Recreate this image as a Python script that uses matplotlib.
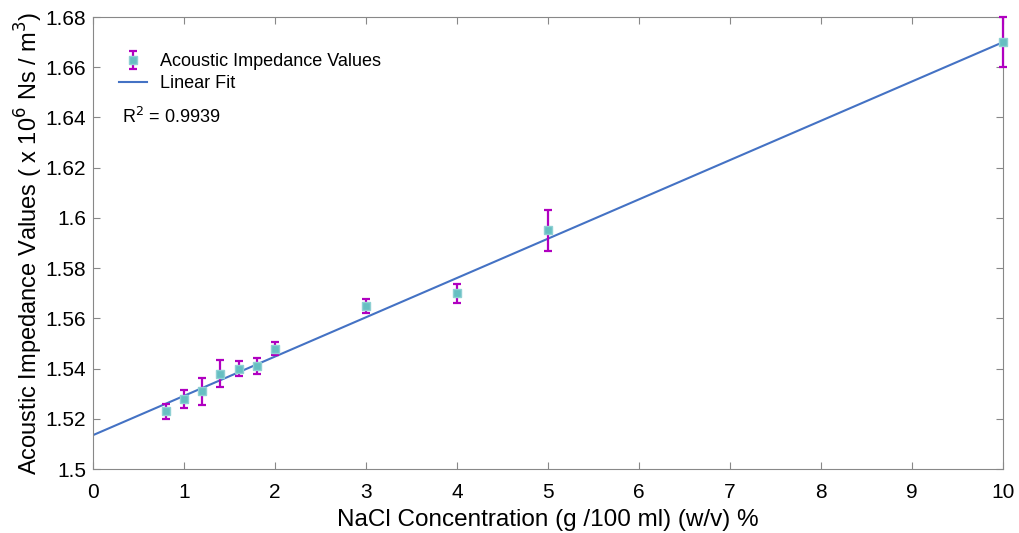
import numpy as np
import matplotlib
matplotlib.use("Agg")
import matplotlib.pyplot as plt

plt.rcParams['font.family'] = ['Liberation Sans', 'DejaVu Sans']

conc = [0.8, 1.0, 1.2, 1.4, 1.6, 1.8, 2.0, 3.0, 4.0, 5.0, 10.0]
impedance = [1.523, 1.528, 1.531, 1.538, 1.540, 1.541, 1.548, 1.565, 1.570, 1.595, 1.670]
errors = [0.003, 0.0035, 0.0053, 0.0055, 0.003, 0.0033, 0.0025, 0.0028, 0.0037, 0.008, 0.010]
xticks = [0, 1, 2, 3, 4, 5, 6, 7, 8, 9, 10]
yticks = [1.5, 1.52, 1.54, 1.56, 1.58, 1.6, 1.62, 1.64, 1.66, 1.68]
ytick_labels = ['1.5', '1.52', '1.54', '1.56', '1.58', '1.6', '1.62', '1.64', '1.66', '1.68']
fit_intercept = 1.5135
fit_slope = 0.01565

fig = plt.figure(figsize=(10.19, 5.33), dpi=100)
ax = fig.add_axes([0.0913, 0.120, 0.893, 0.848])

xf = np.array([0, 10])
ax.plot(xf, fit_intercept + fit_slope * xf, color='#4472c4', lw=1.5, label='Linear Fit', zorder=2)
ax.errorbar(conc, impedance, yerr=errors, fmt='s', ms=6, mfc='#66bfc2', mec='#8fd0d3',
            ecolor='#b000c0', elinewidth=1.6, capsize=3, capthick=1.6,
            label='Acoustic Impedance Values', zorder=3, clip_on=False)

ax.set_xlim(0, 10)
ax.set_ylim(1.5, 1.68)
ax.set_xticks(xticks)
ax.set_yticks(yticks)
ax.set_yticklabels(ytick_labels)
ax.tick_params(direction='in', top=True, right=True, labelsize=15, color='#888888', length=5)
ax.tick_params(axis='x', pad=10)
ax.tick_params(axis='y', pad=5)
for s in ax.spines.values():
    s.set_color('#888888')
    s.set_linewidth(0.8)

ax.set_xlabel('NaCl Concentration (g /100 ml) (w/v) %', fontsize=17.5, labelpad=5)
ax.set_ylabel('Acoustic Impedance Values ( x 10$^6$ Ns / m$^3$)', fontsize=17, labelpad=0)

handles, labels = ax.get_legend_handles_labels()
ax.legend(handles[::-1], labels[::-1], loc='upper left', bbox_to_anchor=(0.0286, 0.92),
          borderaxespad=0, borderpad=0,
          frameon=False, fontsize=13, handlelength=1.55, handletextpad=0.72, labelspacing=0.28)
ax.text(0.032, 0.779, 'R$^2$ = 0.9939', transform=ax.transAxes, fontsize=13, va='center')

fig.savefig('out.png', dpi=100)
